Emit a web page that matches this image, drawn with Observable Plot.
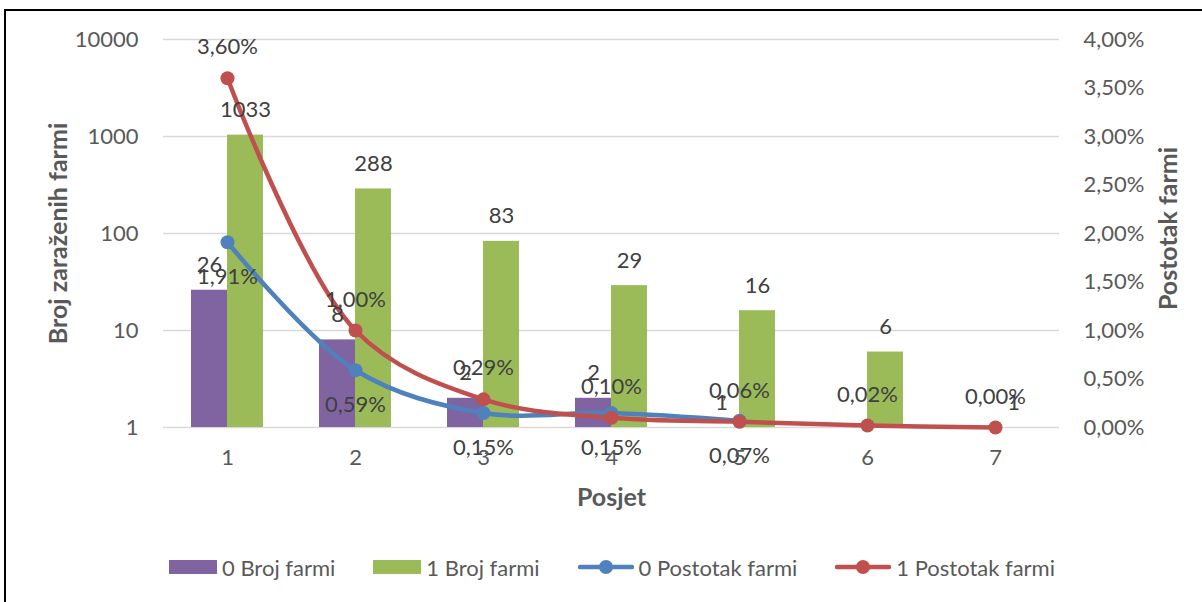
<!DOCTYPE html>
<html><head><meta charset="utf-8">
<script src="https://cdn.jsdelivr.net/npm/d3@7"></script>
<script src="https://cdn.jsdelivr.net/npm/@observablehq/plot@0.6"></script>
<style>
body{margin:0;background:#fff;font-family:Lato,"Noto Sans",sans-serif;}
#wrap{position:relative;width:1202px;height:602px;overflow:hidden;background:#fff;}
#chart svg{display:block;}
#frame{position:absolute;left:4px;top:9px;width:1300px;height:700px;border-left:2px solid #000;border-top:2px solid #000;pointer-events:none;}
#legend{position:absolute;top:553px;left:0;width:1202px;display:flex;justify-content:center;gap:38px;padding-left:22px;box-sizing:border-box;font-size:22px;color:#595959;}
.item{display:flex;align-items:center;gap:5px;height:28px;}
.sw{width:48px;height:14px;}
</style>
</head><body>
<div id="wrap"><div id="chart"></div><div id="legend"></div><div id="frame"></div></div>
<script>
// ---- data ----
const posjet = [1, 2, 3, 4, 5, 6, 7];
const broj0 = [26, 8, 2, 2, 1];                 // 0 Broj farmi
const broj1 = [1033, 288, 83, 29, 16, 6, 1];    // 1 Broj farmi
const postotak0 = [1.91, 0.59, 0.15, 0.15, 0.07];              // 0 Postotak farmi (%)
const postotak1 = [3.60, 1.00, 0.29, 0.10, 0.06, 0.02, 0.00];  // 1 Postotak farmi (%)
const leftTicks = [1, 10, 100, 1000, 10000];
const rightTicks = [0, 0.5, 1, 1.5, 2, 2.5, 3, 3.5, 4];
const seriesNames = ["0 Broj farmi", "1 Broj farmi", "0 Postotak farmi", "1 Postotak farmi"];
const seriesColors = ["#8064a2", "#9bbb59", "#4f81bd", "#c0504d"];
const xTitle = "Posjet";
const yLeftTitle = "Broj zaraženih farmi";
const yRightTitle = "Postotak farmi";

// ---- derived ----
const barW = 0.28125; // bar width as fraction of category step
const decades = Math.log10(leftTicks[leftTicks.length - 1] / leftTicks[0]);
const pctMax = rightTicks[rightTicks.length - 1];
const pctToY = p => leftTicks[0] * 10 ** (p / pctMax * decades);
const fmtPct = p => p.toFixed(2).replace(".", ",") + "%";

const bars0 = broj0.map((v, i) => ({k: posjet[i], v, x1: posjet[i] - barW, x2: posjet[i], xc: posjet[i] - barW / 2}));
const bars1 = broj1.map((v, i) => ({k: posjet[i], v, x1: posjet[i], x2: posjet[i] + barW, xc: posjet[i] + barW / 2}));
const line0 = postotak0.map((p, i) => ({k: posjet[i], p, y: pctToY(p)}));
const line1 = postotak1.map((p, i) => ({k: posjet[i], p, y: pctToY(p)}));
const rightAxis = rightTicks.map(t => ({t, y: pctToY(t)}));

const labelFill = "#404040";
const axisFill = "#595959";
const fs = 22;

const chart = Plot.plot({
  width: 1202,
  height: 530,
  marginLeft: 163,
  marginRight: 143,
  marginTop: 39,
  marginBottom: 103,
  style: {fontFamily: "Lato, 'Noto Sans', sans-serif", background: "transparent"},
  x: {type: "linear", domain: [0.5, 7.5]},
  y: {type: "log", domain: [leftTicks[0], leftTicks[leftTicks.length - 1]]},
  marks: [
    Plot.ruleY(leftTicks, {stroke: "#d9d9d9", strokeWidth: 1.5}),
    Plot.rectY(bars0, {x1: "x1", x2: "x2", y1: leftTicks[0], y2: "v", fill: seriesColors[0]}),
    Plot.rectY(bars1, {x1: "x1", x2: "x2", y1: leftTicks[0], y2: "v", fill: seriesColors[1]}),
    Plot.line(line0, {x: "k", y: "y", stroke: seriesColors[2], strokeWidth: 4.5, curve: "catmull-rom"}),
    Plot.line(line1, {x: "k", y: "y", stroke: seriesColors[3], strokeWidth: 4.5, curve: "catmull-rom"}),
    Plot.dot(line0, {x: "k", y: "y", r: 7, fill: seriesColors[2], stroke: "none"}),
    Plot.dot(line1, {x: "k", y: "y", r: 7, fill: seriesColors[3], stroke: "none"}),
    Plot.text(bars0, {x: "xc", y: "v", text: d => String(d.v), dy: -25, fontSize: fs, fill: labelFill}),
    Plot.text(bars1, {x: "xc", y: "v", text: d => String(d.v), dy: -25, fontSize: fs, fill: labelFill}),
    Plot.text(line0, {x: "k", y: "y", text: d => fmtPct(d.p), dy: 35, fontSize: fs, fill: labelFill}),
    Plot.text(line1, {x: "k", y: "y", text: d => fmtPct(d.p), dy: -31, fontSize: fs, fill: labelFill}),
    Plot.axisY(leftTicks, {anchor: "left", tickSize: 0, tickPadding: 25, fontSize: fs, color: axisFill, label: null, tickFormat: d => String(d)}),
    Plot.text(rightAxis, {y: "y", text: d => fmtPct(d.t), frameAnchor: "right", textAnchor: "start", dx: 24, fontSize: fs, fill: axisFill}),
    Plot.axisX(posjet, {anchor: "bottom", tickSize: 0, tickPadding: 22, fontSize: fs, color: axisFill, label: null, tickFormat: d => String(d)}),
    Plot.text([yLeftTitle], {text: d => d, frameAnchor: "left", textAnchor: "middle", lineAnchor: "middle", dx: -105, rotate: -90, fontSize: 25, fontWeight: "bold", fill: axisFill}),
    Plot.text([yRightTitle], {text: d => d, frameAnchor: "right", textAnchor: "middle", lineAnchor: "middle", dx: 109, dy: -5, rotate: -90, fontSize: 25, fontWeight: "bold", fill: axisFill}),
    Plot.text([xTitle], {text: d => d, frameAnchor: "bottom", lineAnchor: "middle", dy: 70, fontSize: 25, fontWeight: "bold", fill: axisFill})
  ]
});
document.getElementById("chart").appendChild(chart);

// ---- legend ----
const legend = document.getElementById("legend");
seriesNames.forEach((name, i) => {
  const item = document.createElement("div");
  item.className = "item";
  if (i < 2) {
    const sw = document.createElement("div");
    sw.className = "sw";
    sw.style.background = seriesColors[i];
    item.appendChild(sw);
  } else {
    const ns = "http://www.w3.org/2000/svg";
    const s = document.createElementNS(ns, "svg");
    s.setAttribute("width", "56"); s.setAttribute("height", "16");
    const l = document.createElementNS(ns, "line");
    l.setAttribute("x1", "2"); l.setAttribute("x2", "54"); l.setAttribute("y1", "8"); l.setAttribute("y2", "8");
    l.setAttribute("stroke", seriesColors[i]); l.setAttribute("stroke-width", "4.5"); l.setAttribute("stroke-linecap", "round");
    const c = document.createElementNS(ns, "circle");
    c.setAttribute("cx", "28"); c.setAttribute("cy", "8"); c.setAttribute("r", "7"); c.setAttribute("fill", seriesColors[i]);
    s.appendChild(l); s.appendChild(c);
    item.appendChild(s);
  }
  const t = document.createElement("span");
  t.textContent = name;
  item.appendChild(t);
  legend.appendChild(item);
});
</script>
</body></html>
